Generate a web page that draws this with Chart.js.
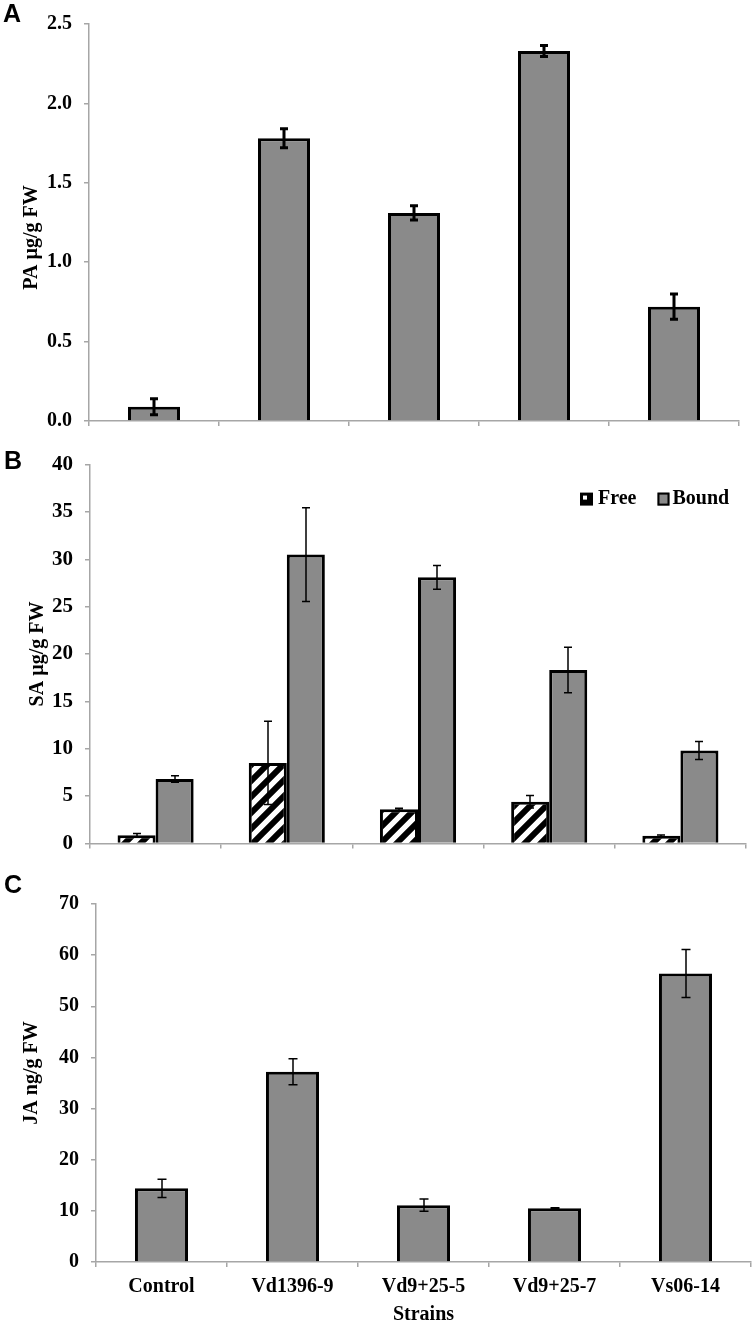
<!DOCTYPE html>
<html><head><meta charset="utf-8">
<script src="https://cdn.jsdelivr.net/npm/chart.js@4/dist/chart.umd.min.js"></script>
<style>
body{margin:0;background:#fff;width:756px;height:1326px;position:relative;overflow:hidden}
canvas{position:absolute;left:0}
.pl{position:absolute;font:bold 25px 'Liberation Sans',Arial,sans-serif;line-height:1;color:#000;z-index:2}
</style></head><body>
<canvas id="cA" width="756" height="445" style="top:0px"></canvas>
<canvas id="cB" width="756" height="428" style="top:440px"></canvas>
<canvas id="cC" width="756" height="458" style="top:868px"></canvas>
<div class="pl" style="left:3px;top:1px">A</div>
<div class="pl" style="left:4px;top:448px">B</div>
<div class="pl" style="left:4px;top:872px">C</div>
<script>
// ---- data ----
const strains = ['Control', 'Vd1396-9', 'Vd9+25-5', 'Vd9+25-7', 'Vs06-14'];

const paValues = [0.09, 1.78, 1.31, 2.33, 0.72];
const paErrors = [0.05, 0.06, 0.045, 0.035, 0.08];
const paTicks = ['0.0', '0.5', '1.0', '1.5', '2.0', '2.5'];

const saFree = [0.85, 8.5, 3.6, 4.4, 0.8];
const saFreeErr = [0.2, 4.4, 0.1, 0.65, 0.1];
const saBound = [6.8, 30.5, 28.1, 18.3, 9.8];
const saBoundErr = [0.35, 4.95, 1.25, 2.4, 0.95];
const saTicks = ['0', '5', '10', '15', '20', '25', '30', '35', '40'];

const jaValues = [14.4, 37.2, 11.1, 10.5, 56.4];
const jaErrors = [1.8, 2.55, 1.2, 0.1, 4.7];
const jaTicks = ['0', '10', '20', '30', '40', '50', '60', '70'];

// ---- styles ----
const SERIF = "'Liberation Serif','Times New Roman',serif";
const AXIS = '#a6a6a6';
const BARGRAY = '#8a8a8a';

function hatch() {
  const T = 16;
  const c = document.createElement('canvas');
  c.width = T; c.height = T;
  const g = c.getContext('2d');
  g.fillStyle = '#fff'; g.fillRect(0, 0, T, T);
  g.strokeStyle = '#000'; g.lineWidth = 6; g.lineCap = 'square';
  g.beginPath();
  g.moveTo(-T, T); g.lineTo(T, -T);
  g.moveTo(0, T); g.lineTo(T, 0);
  g.moveTo(0, 2 * T); g.lineTo(2 * T, 0);
  g.stroke();
  return g.createPattern(c, 'repeat');
}

const errorBars = {
  id: 'errorBars',
  afterDatasetsDraw(chart, args, opts) {
    const ctx = chart.ctx, ys = chart.scales.y;
    chart.data.datasets.forEach((ds, di) => {
      if (!ds.errors) return;
      const meta = chart.getDatasetMeta(di);
      ctx.save();
      ctx.strokeStyle = '#000';
      ctx.lineWidth = opts.lineWidth;
      meta.data.forEach((bar, i) => {
        const v = ds.data[i], e = ds.errors[i];
        const yt = ys.getPixelForValue(v + e), yb = ys.getPixelForValue(v - e);
        const x = Math.round(bar.x), w = opts.capWidth / 2;
        ctx.beginPath();
        ctx.moveTo(x, yt); ctx.lineTo(x, yb);
        ctx.moveTo(x - w, yt); ctx.lineTo(x + w, yt);
        ctx.moveTo(x - w, yb); ctx.lineTo(x + w, yb);
        ctx.stroke();
      });
      ctx.restore();
    });
  }
};

const legendB = {
  id: 'legendB',
  afterDraw(chart) {
    const ctx = chart.ctx, ca = chart.chartArea;
    const ds = chart.data.datasets;
    ctx.save();
    ctx.font = 'bold 20px ' + SERIF;
    ctx.textBaseline = 'middle';
    const cy = ca.top + 34;
    let x = ca.right - 166;
    // Free marker
    ctx.fillStyle = '#000';
    ctx.fillRect(x, cy - 6, 13, 13);
    ctx.fillStyle = '#fff';
    ctx.fillRect(x + 3, cy - 3, 4, 4);
    x += 18;
    ctx.fillStyle = '#000';
    ctx.fillText(ds[0].label, x, cy);
    x += ctx.measureText(ds[0].label).width + 21;
    // Bound marker
    ctx.fillStyle = ds[1].backgroundColor;
    ctx.fillRect(x, cy - 6, 12, 13);
    ctx.strokeStyle = '#000'; ctx.lineWidth = 2;
    ctx.strokeRect(x + 1, cy - 5, 10, 11);
    x += 15;
    ctx.fillStyle = '#000';
    ctx.fillText(ds[1].label, x, cy);
    ctx.restore();
  }
};

function xScale(h, showLabels, title) {
  return {
    type: 'category',
    offset: true,
    grid: { display: true, offset: true, drawOnChartArea: false, drawTicks: true, tickLength: 5, color: AXIS, lineWidth: 1.5 },
    border: { display: true, color: AXIS, width: 1.5 },
    ticks: { display: showLabels, color: '#000', padding: 8, font: { family: SERIF, size: 20, weight: 'bold' }, maxRotation: 0, autoSkip: false },
    title: title ? { display: true, text: title, color: '#000', font: { family: SERIF, size: 20, weight: 'bold', lineHeight: 1.1 }, padding: { top: 0, bottom: 0 } } : { display: false },
    afterFit(s) { s.height = h; }
  };
}

function yScale(w, max, step, labels, title, tpad, fsize) {
  return {
    min: 0, max: max,
    ticks: { stepSize: step, color: '#000', padding: 12, font: { family: SERIF, size: fsize, weight: 'bold' }, callback: (v, i) => labels[i] },
    grid: { drawOnChartArea: false, drawTicks: true, tickLength: 5, color: AXIS, lineWidth: 1.5 },
    border: { display: true, color: AXIS, width: 1.5 },
    title: { display: true, text: title, color: '#000', font: { family: SERIF, size: 20, weight: 'bold' }, padding: { top: tpad, bottom: 0 } },
    afterFit(s) { s.width = w; }
  };
}

const common = {
  responsive: false,
  animation: false,
  events: [],
};

// Panel A
new Chart(document.getElementById('cA'), {
  type: 'bar',
  data: {
    labels: strains,
    datasets: [{
      label: 'PA', data: paValues, errors: paErrors,
      backgroundColor: BARGRAY, borderColor: '#000', borderWidth: 3,
      barPercentage: 0.4, categoryPercentage: 1.0
    }]
  },
  options: Object.assign({}, common, {
    layout: { padding: { top: 19, right: 17, bottom: 0, left: 0 } },
    plugins: { legend: { display: false }, tooltip: { enabled: false }, errorBars: { lineWidth: 3, capWidth: 8 } },
    scales: { x: xScale(24, false), y: yScale(89, 2.5, 0.5, paTicks, 'PA µg/g FW      ', 20, 20) }
  }),
  plugins: [errorBars]
});

// Panel B
new Chart(document.getElementById('cB'), {
  type: 'bar',
  data: {
    labels: strains,
    datasets: [{
      label: 'Free', data: saFree, errors: saFreeErr,
      backgroundColor: hatch(), borderColor: '#000', borderWidth: 3,
      barPercentage: 1.0, categoryPercentage: 0.58
    }, {
      label: 'Bound', data: saBound, errors: saBoundErr,
      backgroundColor: BARGRAY, borderColor: '#000', borderWidth: 3,
      barPercentage: 1.0, categoryPercentage: 0.58
    }]
  },
  options: Object.assign({}, common, {
    layout: { padding: { top: 17, right: 10, bottom: 0, left: 0 } },
    plugins: { legend: { display: false }, tooltip: { enabled: false }, errorBars: { lineWidth: 1.5, capWidth: 8 } },
    scales: { x: xScale(15, false), y: yScale(90, 40, 5, saTicks, 'SA µg/g FW', 26, 21) }
  }),
  plugins: [errorBars, legendB]
});

// Panel C
new Chart(document.getElementById('cC'), {
  type: 'bar',
  data: {
    labels: strains,
    datasets: [{
      label: 'JA', data: jaValues, errors: jaErrors,
      backgroundColor: BARGRAY, borderColor: '#000', borderWidth: 3,
      barPercentage: 0.405, categoryPercentage: 1.0
    }]
  },
  options: Object.assign({}, common, {
    layout: { padding: { top: 36, right: 5, bottom: 0, left: 0 } },
    plugins: { legend: { display: false }, tooltip: { enabled: false }, errorBars: { lineWidth: 1.5, capWidth: 9 } },
    scales: { x: xScale(64, true, 'Strains'), y: yScale(96, 70, 10, jaTicks, '    JA ng/g FW', 20, 20) }
  }),
  plugins: [errorBars]
});
</script>
</body></html>
